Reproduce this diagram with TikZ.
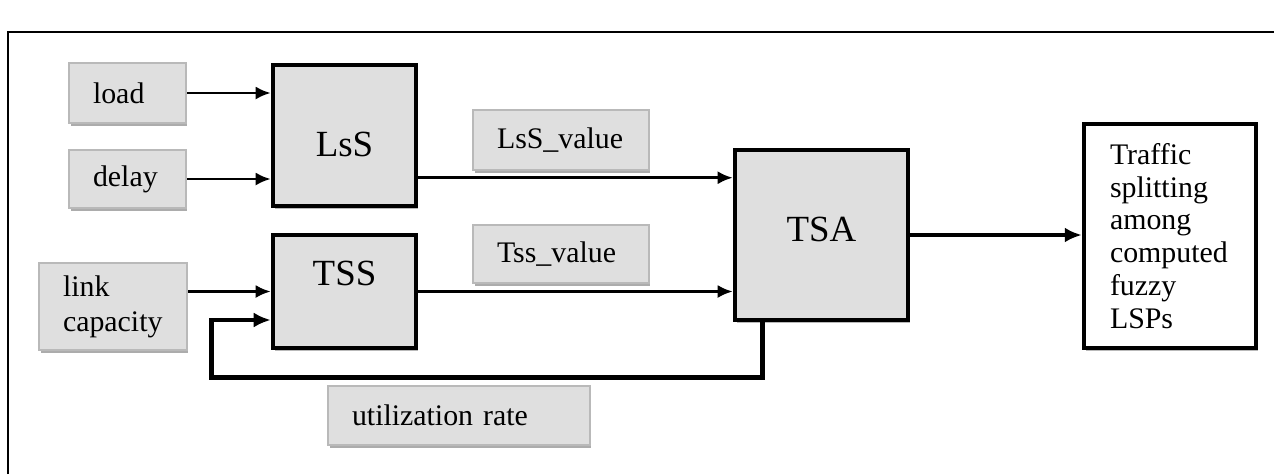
\documentclass[tikz,border=0pt]{standalone}
\usepackage{fontspec}
\setmainfont{Liberation Serif}
\usetikzlibrary{arrows.meta,calc,shadows}

\begin{document}
\begin{tikzpicture}[x=0.02cm,y=-0.02cm,
  inp/.style={draw=gray!55,fill=gray!25,line width=1.2pt,inner xsep=0.48cm,inner ysep=0pt,align=left,
    font=\fontsize{17}{20}\selectfont,drop shadow={shadow xshift=0.03cm,shadow yshift=-0.06cm,fill=gray!65,opacity=1}},
  blk/.style={draw,line width=2.6pt,fill=gray!25,inner sep=0pt,font=\fontsize{21}{25}\selectfont,
    drop shadow={shadow xshift=0.04cm,shadow yshift=-0.06cm,fill=gray!55,opacity=1}},
  ln/.style={line width=1.6pt,-{Latex[length=0.3cm,width=0.26cm]}},
  thk/.style={line width=2.8pt,-{Latex[length=0.34cm,width=0.3cm]}}]
  \useasboundingbox (0,0) rectangle (1274,474);

  % frame
  \draw[line width=1.5pt] (8,474) -- (8,32) -- (1274,32);

  % inputs
  \node[inp,text width=1.38cm,minimum height=1.2cm] (load) at (127.5,93) {load};
  \node[inp,text width=1.38cm,minimum height=1.16cm] (delay) at (127.5,179) {delay};
  \node[inp,text width=2.0cm,minimum height=1.74cm] (cap) at (113,306.5) {link\\capacity};

  % blocks
  \node[blk,minimum width=2.86cm,minimum height=2.82cm,text height=1.0cm,text depth=0.18cm] (LsS) at (344.5,135.5) {LsS};
  \node[blk,minimum width=2.86cm,minimum height=2.26cm,text height=0.55cm,text depth=0.81cm] (TSS) at (344.5,291.5) {TSS};
  \node[blk,minimum width=3.46cm,minimum height=3.4cm,text height=0.5cm,text depth=0.24cm] (TSA) at (821.5,235) {TSA};
  \node[blk,fill=white,minimum width=3.44cm,minimum height=4.48cm,text width=2.4cm,inner xsep=0.52cm,align=left,
    font=\fontsize{17}{18.7}\selectfont] (out) at (1170,236) {Traffic\\splitting\\among\\computed\\fuzzy\\LSPs};

  % value labels
  \node[inp,text width=2.56cm,minimum height=1.2cm] (lsv) at (561,140) {LsS\_value};
  \node[inp,text width=2.56cm,minimum height=1.16cm] (tsv) at (561,254) {Tss\_value};
  \node[inp,text width=4.28cm,minimum height=1.18cm] (ur) at (459,415.5) {utilization rate};

  \coordinate (in1) at ($(TSA.north west)+(0,30)$);
  \coordinate (in2) at ($(TSS.west)+(0,28.5)$);

  \draw[ln] (load) -- (load -| LsS.west);
  \draw[ln] (delay) -- (delay -| LsS.west);
  \draw[ln] (cap.east |- TSS.west) -- (TSS.west);
  \draw[ln] (LsS.east |- in1) -- (in1);
  \draw[ln] (TSS.east) -- (TSS.east -| TSA.west);
  \draw[thk] (TSA.east) -- (TSA.east -| out.west);
  \draw[thk] ($(TSA.south west)+(30,0)$) -- ++(0,55) -| ($(in2)+(-59,0)$) -- (in2);

\end{tikzpicture}
\end{document}
